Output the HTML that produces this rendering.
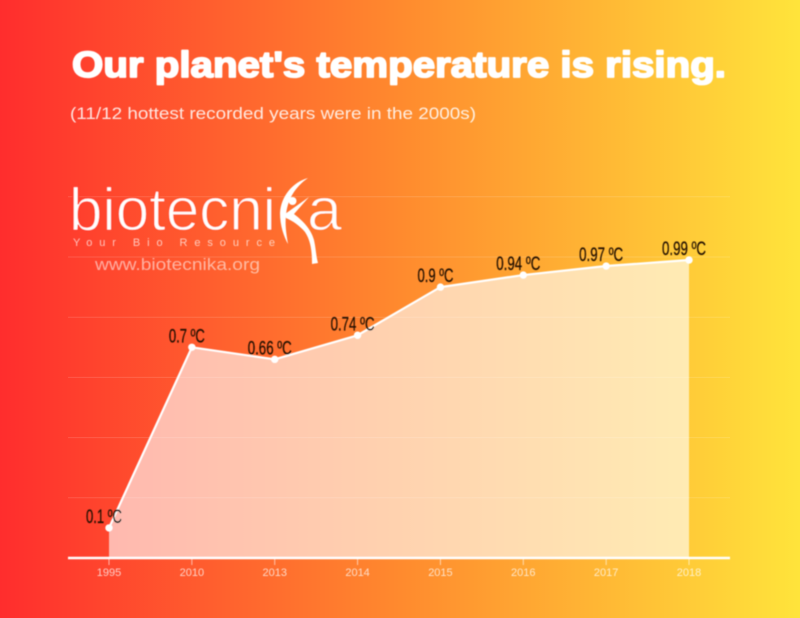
<!DOCTYPE html>
<html lang="en">
<head>
<meta charset="utf-8">
<title>Our planet's temperature is rising.</title>
<style>
html,body{margin:0;padding:0;width:800px;height:618px;overflow:hidden;background:#ff8c2e}
svg{display:block;font-family:"Liberation Sans",sans-serif}
</style>
</head>
<body>
<svg id="chart" xmlns="http://www.w3.org/2000/svg" width="800" height="618" viewBox="0 0 800 618">
  <defs>
    <linearGradient id="bg" gradientUnits="userSpaceOnUse" x1="0" y1="0" x2="800" y2="0">
      <stop offset="0" stop-color="#ff2d2d"/>
      <stop offset="0.5" stop-color="#ff8a2e"/>
      <stop offset="1" stop-color="#ffe43b"/>
    </linearGradient>
    <filter id="soft" x="-5%" y="-20%" width="110%" height="140%"><feGaussianBlur stdDeviation="0.5"/></filter>
  </defs>
  <rect width="800" height="618" fill="url(#bg)"/>
  <g filter="url(#soft)">
    <text x="72" y="77" font-size="36.5" font-weight="700" fill="#fff" stroke="#fff" stroke-width="1.8" stroke-linejoin="round" textLength="654" lengthAdjust="spacingAndGlyphs">Our planet's temperature is rising.</text>
    <text x="70" y="119" font-size="17" fill="#fff" fill-opacity="0.85" textLength="406" lengthAdjust="spacingAndGlyphs">(11/12 hottest recorded years were in the 2000s)</text>
  </g>
  <g id="grid"></g>
  <g id="plot" filter="url(#soft)"></g>
  <g filter="url(#soft)">
    <title>biotecnika</title>
    <text x="69" y="230" font-size="60" fill="#fff" stroke="url(#bg)" stroke-width="1.5" textLength="207" lengthAdjust="spacingAndGlyphs">biotecni</text>
    <text x="307" y="230" font-size="60" fill="#fff" stroke="url(#bg)" stroke-width="1.5" textLength="35" lengthAdjust="spacingAndGlyphs">a</text>
    <path d="M308 178C293 182 281 196 280 213C280 226 284 237 288 244C286 232 285 224 286 216C287 200 295 187 308 178Z" fill="#fff"/>
    <circle cx="292.500" cy="201" r="4" fill="#fff"/>
    <path d="M285 214L309 197L294 214C303 221 311 229 314 240C316 249 316 256 318 263L312 264C312 252 311 241 305 232C300 226 293 221 286 218Z" fill="#fff"/>
    <text x="73" y="246" font-size="11" fill="#fff" fill-opacity="0.68" textLength="202" lengthAdjust="spacing">Your Bio Resource</text>
    <text x="95" y="270" font-size="17" fill="#fff" fill-opacity="0.55" textLength="165" lengthAdjust="spacingAndGlyphs">www.biotecnika.org</text>
  </g>
</svg>
<script>
const categories = ["1995", "2010", "2013", "2014", "2015", "2016", "2017", "2018"];
const temperatureValues = [0.1, 0.7, 0.66, 0.74, 0.9, 0.94, 0.97, 0.99];
const valueLabels = ["0.1 ºC", "0.7 ºC", "0.66 ºC", "0.74 ºC", "0.9 ºC", "0.94 ºC", "0.97 ºC", "0.99 ºC"];
const gridTicks = [0.2, 0.4, 0.6, 0.8, 1.0, 1.2];

const NS = "http://www.w3.org/2000/svg";
const X_START = 109, X_STEP = 82.86, Y_ZERO = 558, Y_PER_UNIT = 301;
const xScale = i => X_START + i * X_STEP;
const yScale = v => Y_ZERO - v * Y_PER_UNIT;
const grid = document.getElementById("grid");
const plot = document.getElementById("plot");

function make(tag, attrs, parent, text) {
  const el = document.createElementNS(NS, tag);
  for (const k in attrs) el.setAttribute(k, attrs[k]);
  if (text !== undefined) el.textContent = text;
  parent.appendChild(el);
  return el;
}

gridTicks.forEach(t => {
  const line = make("line", {x1: 68, x2: 730, y1: yScale(t), y2: yScale(t), stroke: "#fff", "stroke-opacity": 0.14, "stroke-width": 1}, grid);
  
  
});

const linePts = temperatureValues.map((v, i) => xScale(i) + "," + yScale(v)).join(" ");
const lastX = xScale(temperatureValues.length - 1);
const area = make("polygon", {points: xScale(0) + "," + Y_ZERO + " " + linePts + " " + lastX + "," + Y_ZERO, fill: "#fff", "fill-opacity": 0.62}, plot);



const seriesLine = make("polyline", {points: linePts, fill: "none", stroke: "#fff", "stroke-width": 2.2, "stroke-linejoin": "round"}, plot);



const axis = make("line", {x1: 68, x2: 730, y1: Y_ZERO, y2: Y_ZERO, stroke: "#fff", "stroke-width": 2.6}, plot);



categories.forEach((c, i) => {
  const tick = make("line", {x1: xScale(i), x2: xScale(i), y1: Y_ZERO, y2: Y_ZERO + 7, stroke: "#fff", "stroke-opacity": 0.6, "stroke-width": 1}, plot);
  
  
  const label = make("text", {x: xScale(i), y: 576, "text-anchor": "middle", "font-size": 11, fill: "#fff", "fill-opacity": 0.72}, plot, c);
  
  
});

temperatureValues.forEach((v, i) => {
  const px = xScale(i), py = yScale(v);
  const dot = make("circle", {cx: px, cy: py, r: 3.7, fill: "#fff"}, plot);
  
  
  const txt = valueLabels[i];
  const len = txt.length > 6 ? 44 : 36;
  const tx = make("text", {x: px - len / 2 - 5, y: py - 5, "font-size": 19, fill: "#241005", stroke: "#241005", "stroke-width": 0.25, textLength: len, lengthAdjust: "spacingAndGlyphs"}, plot, txt);
  
  
});
</script>
</body>
</html>
